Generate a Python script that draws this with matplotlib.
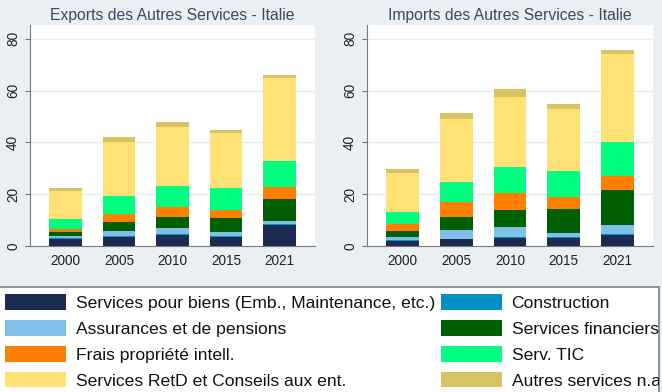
import numpy as np
import matplotlib
matplotlib.use('Agg')
import matplotlib.pyplot as plt
from matplotlib.patches import Patch, Rectangle

plt.rcParams['font.family'] = ['Liberation Sans', 'DejaVu Sans']

annees = ['2000', '2005', '2010', '2015', '2021']

categories = ['Services pour biens (Emb., Maintenance, etc.)', 'Construction',
              'Assurances et de pensions', 'Services financiers',
              'Frais propriété intell.', 'Serv. TIC',
              'Services RetD et Conseils aux ent.', 'Autres services n.a']
couleurs = ['#1c2b52', '#0090c4', '#80bfe8', '#005f00',
            '#ff8000', '#00ff80', '#ffe176', '#d8c264']

# exportations (Mds), du bas vers le haut de la pile
exp_biens = [2.6, 3.6, 4.1, 3.5, 8.0]
exp_constr = [0.5, 0.4, 0.4, 0.5, 0.5]
exp_assur = [0.8, 1.8, 2.3, 1.5, 1.1]
exp_fin = [1.6, 3.3, 4.5, 5.4, 8.4]
exp_frais = [1.1, 3.4, 3.6, 3.0, 4.9]
exp_tic = [3.7, 6.8, 8.4, 8.5, 10.0]
exp_retd = [11.1, 21.0, 22.7, 21.1, 31.9]
exp_autres = [1.1, 1.8, 1.8, 1.4, 1.2]

# importations
imp_biens = [1.8, 2.6, 3.0, 3.1, 4.1]
imp_constr = [0.4, 0.2, 0.3, 0.4, 0.4]
imp_assur = [1.1, 3.2, 4.2, 1.6, 3.6]
imp_fin = [2.5, 5.2, 6.4, 9.3, 13.5]
imp_frais = [2.6, 5.6, 6.4, 4.4, 5.3]
imp_tic = [4.7, 7.8, 10.3, 10.1, 13.2]
imp_retd = [15.2, 24.3, 27.0, 23.8, 34.0]
imp_autres = [1.5, 2.3, 3.1, 2.1, 1.5]

exports = [exp_biens, exp_constr, exp_assur, exp_fin, exp_frais, exp_tic, exp_retd, exp_autres]
imports = [imp_biens, imp_constr, imp_assur, imp_fin, imp_frais, imp_tic, imp_retd, imp_autres]

fond = '#e9eff2'
W, H = 662, 392
fig = plt.figure(figsize=(W / 100, H / 100), dpi=100, facecolor=fond)

def px(x0, y0, x1, y1):
    # boite en pixels (origine en haut a gauche) -> fraction de figure
    return [x0 / W, 1 - y1 / H, (x1 - x0) / W, (y1 - y0) / H]

def panneau(rect, series, titre):
    ax = fig.add_axes(rect)
    ax.set_facecolor('white')
    x = np.arange(len(annees))
    bas = np.zeros(len(annees))
    for vals, c in zip(series, couleurs):
        ax.bar(x, vals, width=0.61, bottom=bas, color=c, linewidth=0, zorder=3)
        bas += np.array(vals)
    ax.set_xlim(-0.665, 4.665)
    ax.set_ylim(0, 85.3)
    ax.set_yticks([0, 20, 40, 60, 80])
    ax.set_xticks(x)
    ax.set_xticklabels(annees)
    ax.tick_params(axis='x', length=0, pad=5.5, labelsize=9.8, labelcolor='#222222')
    ax.tick_params(axis='y', length=3.6, width=0.8, color='#777777', pad=3.5,
                   labelsize=9.8, labelcolor='#222222')
    for lab in ax.get_yticklabels():
        lab.set_rotation(90)
        lab.set_va('center')
    ax.yaxis.grid(True, color='#e4edf0', linewidth=1.0, zorder=0)
    ax.spines['top'].set_visible(False)
    ax.spines['right'].set_visible(False)
    ax.spines['left'].set_color('#7a7a7a')
    ax.spines['bottom'].set_color('#7a7a7a')
    ax.set_title(titre, fontsize=11.3, color='#3c4a5c', pad=3.5)
    return ax

panneau(px(30, 25, 315, 246), exports, 'Exports des Autres Services - Italie')
panneau(px(367, 25, 653, 246), imports, 'Imports des Autres Services - Italie')

# cadre de la legende
cadre = Rectangle((-1 / W, -2 / H), 660 / W, 107 / H, transform=fig.transFigure,
                  facecolor='white', edgecolor='#8a8a8a', linewidth=1.3, zorder=1)
fig.patches.append(cadre)

poignees = [Patch(facecolor=c, edgecolor='none') for c in couleurs]
taille = 12.6
opts = dict(frameon=False, fontsize=taille, handlelength=61 / (taille * 100 / 72),
            handleheight=1.0, handletextpad=0.55, labelspacing=0.52,
            borderpad=0, borderaxespad=0, loc='upper left')
col1 = [0, 2, 4, 6]
col2 = [1, 3, 5, 7]
l1 = fig.legend([poignees[i] for i in col1], [categories[i] for i in col1],
                bbox_to_anchor=(5 / W, 1 - 294 / H), **opts)
l2 = fig.legend([poignees[i] for i in col2], [categories[i] for i in col2],
                bbox_to_anchor=(441 / W, 1 - 294 / H), **opts)
for leg in (l1, l2):
    leg.set_zorder(2)
    for t in leg.get_texts():
        t.set_color('#111111')
        t.set_clip_path(cadre)

fig.savefig('out.png', dpi=100, facecolor=fond)
